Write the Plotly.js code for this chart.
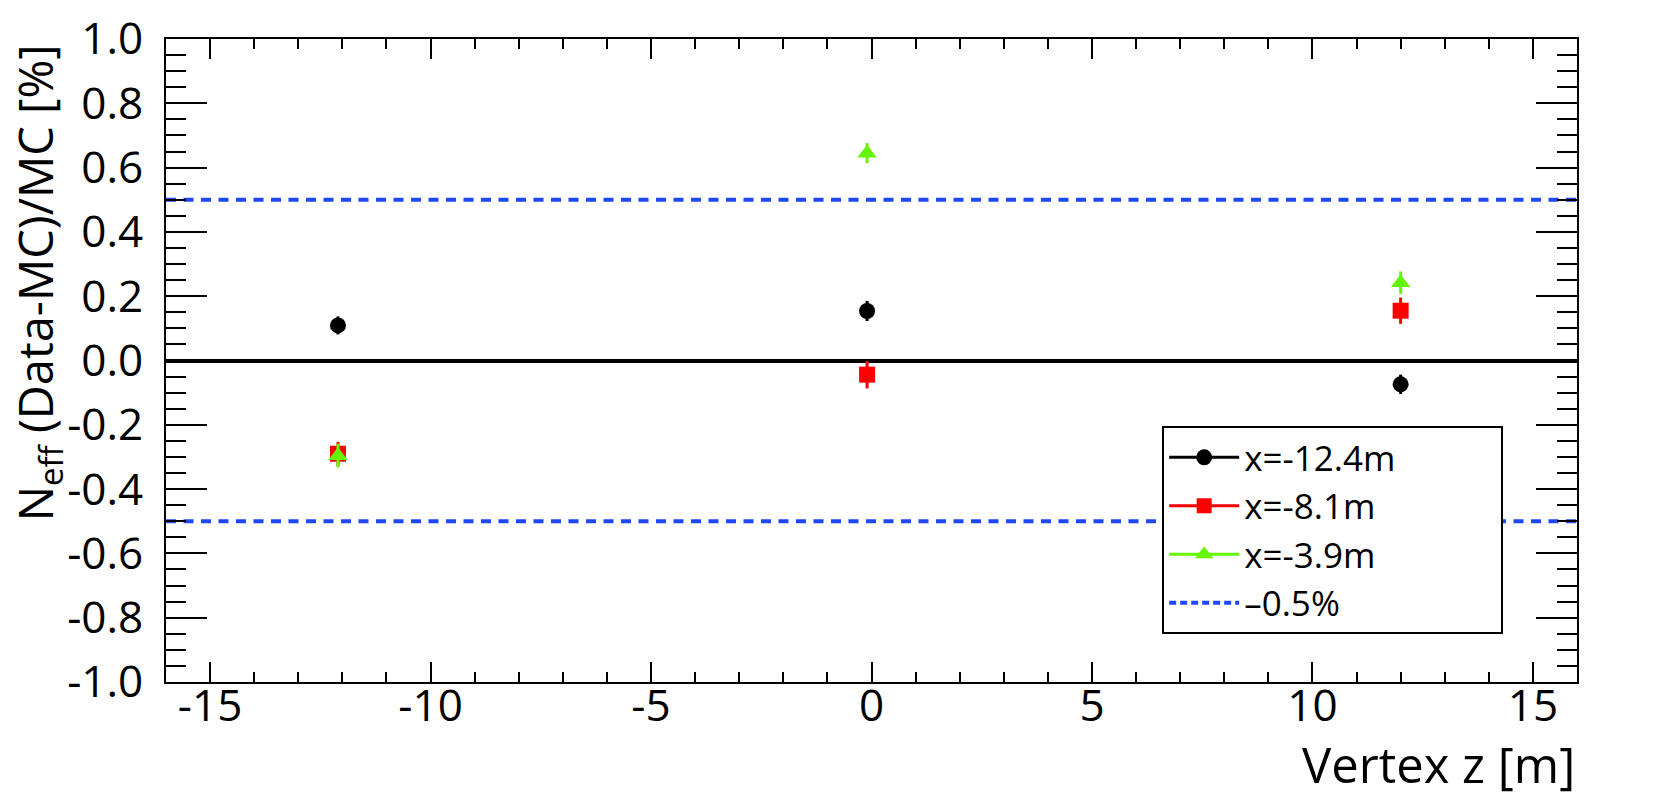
<!DOCTYPE html>
<html>
<head>
<meta charset="utf-8">
<script src="https://cdn.plot.ly/plotly-3.0.1.min.js"></script>
<style>
  html, body { margin: 0; padding: 0; background: #fff; }
  #chart { width: 1661px; height: 798px; }
</style>
</head>
<body>
<div id="chart"></div>
<script>
// vertex z positions (m)
var vertexZ = [-12.1, -0.1, 12.0];

// (Data-MC)/MC in %, one list per detector x position
var yX124 = [0.109, 0.154, -0.074];
var eX124 = [0.028, 0.031, 0.030];
var yX81 = [-0.290, -0.044, 0.155];
var eX81 = [0.037, 0.043, 0.041];
var yX39 = [-0.296, 0.645, 0.242];
var eX39 = [0.037, 0.031, 0.035];

var limitZ = [-16, 16];
var limitUp = [0.5, 0.5];
var limitDown = [-0.5, -0.5];

var seriesNames = ['x=-12.4m', 'x=-8.1m', 'x=-3.9m', '\u20130.5%'];

var xTickVals = [-15, -10, -5, 0, 5, 10, 15];
var xTickText = ['-15', '-10', '-5', '0', '5', '10', '15'];
var yTickVals = [-1, -0.8, -0.6, -0.4, -0.2, 0, 0.2, 0.4, 0.6, 0.8, 1];
var yTickText = ['-1.0', '-0.8', '-0.6', '-0.4', '-0.2', '0.0', '0.2', '0.4', '0.6', '0.8', '1.0'];

var FONT = 'Open Sans, Liberation Sans, sans-serif';
var BLUE = '#1e48ff';
var GREEN = '#66f500';
// legend box in the reference is wider than its text
var PAD = '\u00a0'.repeat(11);

function points(y, e, color, symbol, size) {
    return {
        x: vertexZ, y: y,
        type: 'scatter', mode: 'markers',
        marker: {color: color, symbol: symbol, size: size},
        error_y: {type: 'data', array: e, visible: true, width: 0, thickness: 3, color: color},
        showlegend: false, hoverinfo: 'x+y'
    };
}

// legend-only entries (no data drawn)
function legendItem(name, color, symbol, size) {
    return {
        x: [null], y: [null], name: name,
        type: 'scatter', mode: 'lines+markers',
        line: {color: color, width: 3},
        marker: {color: color, symbol: symbol, size: size}
    };
}

var traces = [
    {x: limitZ, y: limitUp, type: 'scatter', mode: 'lines',
     line: {color: BLUE, width: 4, dash: '10px,7.5px'}, showlegend: false, hoverinfo: 'skip'},
    {x: limitZ, y: limitDown, type: 'scatter', mode: 'lines',
     line: {color: BLUE, width: 4, dash: '10px,7.5px'}, showlegend: false, hoverinfo: 'skip'},
    points(yX124, eX124, '#000000', 'circle', 16),
    points(yX81, eX81, '#ff0000', 'square', 16),
    points(yX39, eX39, GREEN, 'triangle-up', 17),
    legendItem(seriesNames[0] + PAD, '#000000', 'circle', 16),
    legendItem(seriesNames[1], '#ff0000', 'square', 15),
    legendItem(seriesNames[2], GREEN, 'triangle-up', 16),
    {x: [null], y: [null], name: seriesNames[3], type: 'scatter', mode: 'lines',
     line: {color: BLUE, width: 4, dash: '7px,4px'}}
];

var layout = {
    width: 1661,
    height: 798,
    paper_bgcolor: '#ffffff',
    plot_bgcolor: '#ffffff',
    font: {family: FONT, size: 44, color: '#000'},
    margin: {l: 166, r: 84, t: 39, b: 116, pad: 0},
    showlegend: true,
    legend: {
        x: 0.706, y: 0.398, xanchor: 'left', yanchor: 'top',
        bgcolor: '#ffffff', bordercolor: '#000', borderwidth: 2,
        font: {family: FONT, size: 35, color: '#000'},
        tracegroupgap: 0,
        itemwidth: 70
    },
    xaxis: {
        range: [-16, 16],
        tickmode: 'array', tickvals: xTickVals, ticktext: xTickText,
        ticks: 'inside', ticklen: 20, tickwidth: 2, tickcolor: '#000',
        minor: {tickmode: 'linear', tick0: 0, dtick: 1, ticks: 'inside', ticklen: 10, tickwidth: 2, tickcolor: '#000'},
        showline: true, linecolor: '#000', linewidth: 2, mirror: 'ticks',
        showgrid: false, zeroline: false,
        tickfont: {family: FONT, size: 44},
        ticklabelstandoff: -16
    },
    yaxis: {
        range: [-1, 1],
        tickmode: 'array', tickvals: yTickVals, ticktext: yTickText,
        ticks: 'inside', ticklen: 41, tickwidth: 2, tickcolor: '#000',
        minor: {tickmode: 'linear', tick0: 0, dtick: 0.05, ticks: 'inside', ticklen: 20, tickwidth: 2, tickcolor: '#000'},
        showline: true, linecolor: '#000', linewidth: 2, mirror: 'ticks',
        showgrid: false,
        zeroline: true, zerolinecolor: '#000', zerolinewidth: 4,
        tickfont: {family: FONT, size: 44},
        ticklabelstandoff: 12
    },
    annotations: [
        {
            text: 'N<sub>eff</sub> (Data-MC)/MC [%]',
            xref: 'paper', yref: 'paper',
            x: -0.091, y: 0.995, xanchor: 'center', yanchor: 'top',
            textangle: -90, showarrow: false,
            font: {family: FONT, size: 47, color: '#000'}
        },
        {
            text: 'Vertex z [m]',
            xref: 'paper', yref: 'paper',
            x: 1.0, y: -0.128, xanchor: 'right', yanchor: 'middle',
            showarrow: false,
            font: {family: FONT, size: 49, color: '#000'}
        }
    ]
};

Plotly.newPlot('chart', traces, layout, {displayModeBar: false, staticPlot: true});
</script>
</body>
</html>
